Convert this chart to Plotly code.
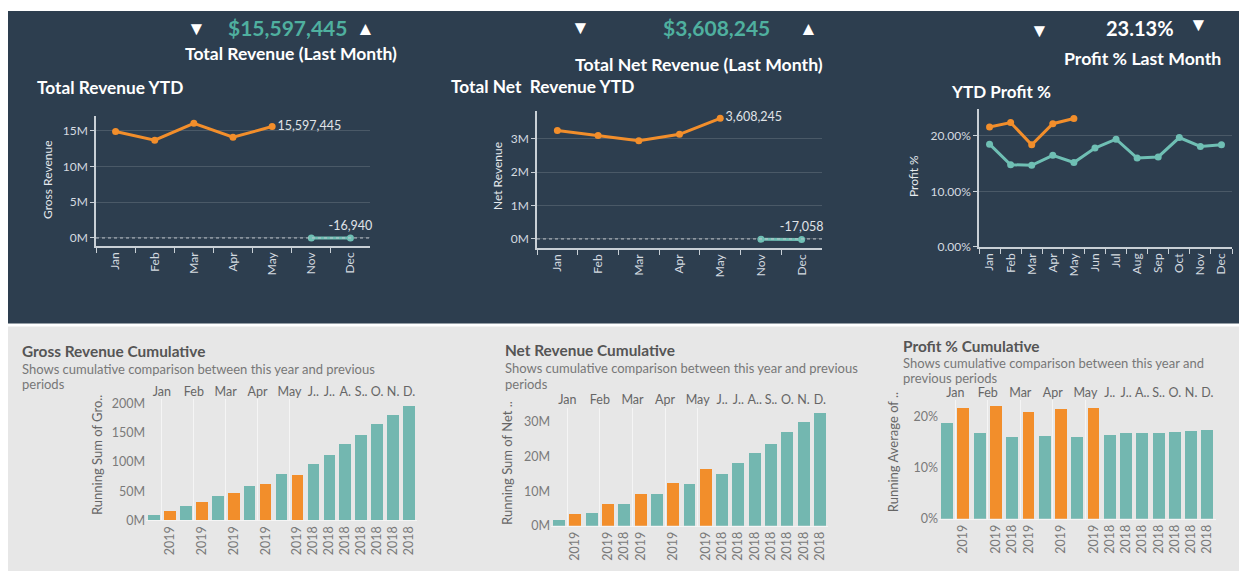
import plotly.graph_objects as go

# ---------------- DATA ----------------
ytd_months = ['Jan', 'Feb', 'Mar', 'Apr', 'May', 'Nov', 'Dec']
rev_this_months = ['Jan', 'Feb', 'Mar', 'Apr', 'May']
rev_this = [14.9e6, 13.7e6, 16.05e6, 14.1e6, 15597445]
rev_prev_months = ['Nov', 'Dec']
rev_prev = [-9800, -16940]
net_this = [3.24e6, 3.09e6, 2.94e6, 3.13e6, 3608245]
net_prev = [-10200, -17058]

all_months = ['Jan', 'Feb', 'Mar', 'Apr', 'May', 'Jun', 'Jul', 'Aug', 'Sep', 'Oct', 'Nov', 'Dec']
profit_this = [0.216, 0.224, 0.184, 0.222, 0.2313]
profit_prev = [0.185, 0.148, 0.147, 0.165, 0.152, 0.178, 0.194, 0.160, 0.162, 0.197, 0.181, 0.184]

kpi_rev = '$15,597,445'
kpi_net = '$3,608,245'
kpi_profit = '23.13%'

bar_month = ['Jan', 'Jan', 'Feb', 'Feb', 'Mar', 'Mar', 'Apr', 'Apr', 'May', 'May',
             'Jun', 'Jul', 'Aug', 'Sep', 'Oct', 'Nov', 'Dec']
bar_year = ['2018', '2019', '2018', '2019', '2018', '2019', '2018', '2019', '2018', '2019',
            '2018', '2018', '2018', '2018', '2018', '2018', '2018']
gross_cum = [9.1e6, 15.0e6, 23.7e6, 30.0e6, 41.6e6, 45.6e6, 58.4e6, 60.6e6, 78.1e6, 76.9e6,
             95.0e6, 111.8e6, 130.3e6, 145.0e6, 163.5e6, 180.3e6, 194.8e6]
net_cum = [1.7e6, 3.4e6, 3.7e6, 6.4e6, 6.4e6, 9.3e6, 9.3e6, 12.3e6, 12.0e6, 16.3e6,
           15.1e6, 18.1e6, 21.0e6, 23.6e6, 27.0e6, 30.1e6, 32.7e6]
profit_cum = [0.1865, 0.217, 0.168, 0.2206, 0.160, 0.209, 0.1615, 0.2135, 0.160, 0.217,
              0.1635, 0.168, 0.168, 0.168, 0.170, 0.172, 0.174]
gross_top_labels = ['Jan', 'Feb', 'Mar', 'Apr', 'May', 'J..', 'J..', 'A.', 'S..', 'O.', 'N.', 'D.']
net_top_labels = ['Jan', 'Feb', 'Mar', 'Apr', 'May', 'J..', 'J..', 'A..', 'S..', 'O.', 'N.', 'D.']
gross_year_shown = [1, 3, 5, 7, 9, 10, 11, 12, 13, 14, 15, 16]
net_year_shown = [1, 3, 4, 5, 7, 9, 10, 11, 12, 13, 14, 15, 16]

# ---------------- STYLE ----------------
W, H = 1247, 579
OFF = 8                      # page body margin
FW, FH = W - OFF, H - OFF    # figure size
FONT = 'Lato'
DARK = '#2d3e4f'
GREY = '#e7e7e7'
ORANGE = '#f28e2b'
TEAL_LINE = '#6fbfb4'
TEAL_BAR = '#73b7b0'
KPI_TEAL = '#4fb09f'
TICK_DARK = '#d5dbe0'
TICK_LIGHT = '#7a7a7a'


def px(x):
    return max(0.0, (x - OFF) / FW)


def py(y):
    return max(0.0, min(1.0, 1 - (y - OFF) / FH))


fig = go.Figure()

# background panels
fig.add_shape(type='rect', xref='paper', yref='paper', x0=px(8), x1=1, y0=py(326), y1=py(5),
              fillcolor=DARK, line_width=0, layer='below')
fig.add_shape(type='rect', xref='paper', yref='paper', x0=px(8), x1=1, y0=py(578), y1=py(329),
              fillcolor=GREY, line_width=0, layer='below')

# ---------- top line charts ----------
def line_tr(x, y, color, xa, ya, text=None, tpos='middle right'):
    return go.Scatter(x=x, y=y, mode='lines+markers+text' if text else 'lines+markers',
                      line=dict(color=color, width=3), marker=dict(color=color, size=7),
                      text=text, textposition=tpos,
                      textfont=dict(family=FONT, size=12.5, color='#e0e4e8'),
                      xaxis=xa, yaxis=ya, showlegend=False, hoverinfo='skip', cliponaxis=False)


fig.add_trace(line_tr(rev_this_months, rev_this, ORANGE, 'x', 'y',
                      text=[''] * 4 + ['{:,}'.format(rev_this[-1])]))
fig.add_trace(line_tr(rev_prev_months, rev_prev, TEAL_LINE, 'x', 'y',
                      text=['', '{:,}'.format(rev_prev[-1])], tpos='top center'))
fig.add_trace(line_tr(rev_this_months, net_this, ORANGE, 'x2', 'y2',
                      text=[''] * 4 + ['{:,}'.format(net_this[-1])]))
fig.add_trace(line_tr(rev_prev_months, net_prev, TEAL_LINE, 'x2', 'y2',
                      text=['', '{:,}'.format(net_prev[-1])], tpos='top center'))
fig.add_trace(line_tr(all_months[:len(profit_this)], profit_this, ORANGE, 'x3', 'y3'))
fig.add_trace(line_tr(all_months, profit_prev, TEAL_LINE, 'x3', 'y3'))

dark_x = dict(type='category', tickangle=-90, showline=True, linecolor='#c9d0d6', linewidth=1.5,
              ticks='outside', tickson='boundaries', ticklen=5, tickcolor='#c9d0d6',
              tickfont=dict(family=FONT, size=12, color=TICK_DARK), showgrid=False,
              fixedrange=True)
dark_y = dict(showline=True, linecolor='#c9d0d6', linewidth=1.5, ticks='outside', ticklen=4,
              tickcolor='#c9d0d6', tickfont=dict(family=FONT, size=12, color=TICK_DARK),
              showgrid=True, gridcolor='rgba(255,255,255,0.14)', gridwidth=1, zeroline=False)

fig.update_layout(
    xaxis=dict(dark_x, domain=[px(96), px(370)], anchor='y', range=[-0.5, 6.5],
               categoryorder='array', categoryarray=ytd_months),
    yaxis=dict(dark_y, domain=[py(247), py(115)], anchor='x', range=[-1.1e6, 17.06e6],
               tickvals=[0, 5e6, 10e6, 15e6], ticktext=['0M', '5M', '10M', '15M']),
    xaxis2=dict(dark_x, domain=[px(537), px(822)], anchor='y2', range=[-0.5, 6.5],
                categoryorder='array', categoryarray=ytd_months),
    yaxis2=dict(dark_y, domain=[py(249), py(110)], anchor='x2', range=[-0.265e6, 3.82e6],
                tickvals=[0, 1e6, 2e6, 3e6], ticktext=['0M', '1M', '2M', '3M']),
    xaxis3=dict(dark_x, domain=[px(979), px(1232)], anchor='y3', range=[-0.5, 11.5],
                categoryorder='array', categoryarray=all_months),
    yaxis3=dict(dark_y, domain=[py(248), py(108)], anchor='x3', range=[0, 0.248],
                tickvals=[0, 0.1, 0.2], tickformat='.2%'),
)

for ya in ['y', 'y2']:
    fig.add_shape(type='line', xref=ya.replace('y', 'x') + ' domain', yref=ya, x0=0, x1=1, y0=0, y1=0,
                  line=dict(color='#c0c6cc', width=1, dash='dot'))

# ---------- bottom bar charts ----------
idx = list(range(len(bar_month)))
bar_colors = [ORANGE if y == '2019' else TEAL_BAR for y in bar_year]
month_centers = []
for m in all_months:
    pos = [i for i, bm in enumerate(bar_month) if bm == m]
    month_centers.append(sum(pos) / len(pos))
paired_centers = [c for c in month_centers if c != int(c)]


def bar_tr(vals, xa, ya):
    return go.Bar(x=idx, y=vals, marker=dict(color=bar_colors, line_width=0), width=0.73,
                  xaxis=xa, yaxis=ya, showlegend=False, hoverinfo='skip')


def ghost(xs, xa, ya):
    return go.Scatter(x=xs, y=[0] * len(xs), mode='markers',
                      marker=dict(opacity=0), xaxis=xa, yaxis=ya, showlegend=False, hoverinfo='skip')


fig.add_trace(ghost(paired_centers, 'x10', 'y4'))
fig.add_trace(ghost(paired_centers, 'x11', 'y6'))
fig.add_trace(ghost(paired_centers, 'x12', 'y8'))
fig.add_trace(bar_tr(gross_cum, 'x4', 'y4'))
fig.add_trace(ghost(month_centers, 'x5', 'y4'))
fig.add_trace(bar_tr(net_cum, 'x6', 'y6'))
fig.add_trace(ghost(month_centers, 'x7', 'y6'))
fig.add_trace(bar_tr(profit_cum, 'x8', 'y8'))
fig.add_trace(ghost(month_centers, 'x9', 'y8'))

light_x = dict(range=[-0.5, 16.5], tickangle=-90, showline=True, linecolor='#f5f5f5', linewidth=1,
               ticks='', tickfont=dict(family=FONT, size=12.5, color=TICK_LIGHT), showgrid=False,
               zeroline=False, tickvals=idx)
light_top = dict(range=[-0.5, 16.5], side='top', showline=False, ticks='',
                 tickfont=dict(family=FONT, size=12.5, color='#666666'),
                 tickvals=month_centers, showgrid=False, zeroline=False)
grid_x = dict(range=[-0.5, 16.5], showline=False, ticks='', showticklabels=False,
              tickvals=paired_centers, showgrid=True, gridcolor='rgba(255,255,255,0.6)',
              gridwidth=1, zeroline=False)
light_y = dict(showline=False, ticks='', tickfont=dict(family=FONT, size=12.5, color=TICK_LIGHT),
               showgrid=False, zeroline=False)


def year_text(shown):
    return [bar_year[i] if i in shown else '' for i in idx]


GD = [px(146), px(417)]
ND = [px(551), px(828)]
PD = [px(939), px(1215.5)]
fig.update_layout(
    xaxis4=dict(light_x, domain=GD, anchor='y4', ticktext=year_text(gross_year_shown)),
    xaxis5=dict(light_top, domain=GD, anchor='y4', overlaying='x4', ticktext=gross_top_labels),
    xaxis10=dict(grid_x, domain=GD, anchor='y4', overlaying='x4'),
    yaxis4=dict(light_y, domain=[py(526.4), py(403.4)], anchor='x4', range=[0, 207e6],
                tickvals=[0, 50e6, 100e6, 150e6, 200e6], ticktext=['0M', '50M', '100M', '150M', '200M']),
    xaxis6=dict(light_x, domain=ND, anchor='y6', ticktext=year_text(net_year_shown)),
    xaxis7=dict(light_top, domain=ND, anchor='y6', overlaying='x6', ticktext=net_top_labels),
    xaxis11=dict(grid_x, domain=ND, anchor='y6', overlaying='x6'),
    yaxis6=dict(light_y, domain=[py(532), py(412)], anchor='x6', range=[0, 34e6],
                tickvals=[0, 10e6, 20e6, 30e6], ticktext=['0M', '10M', '20M', '30M']),
    xaxis8=dict(light_x, domain=PD, anchor='y8', ticktext=year_text(net_year_shown)),
    xaxis9=dict(light_top, domain=PD, anchor='y8', overlaying='x8', ticktext=net_top_labels),
    xaxis12=dict(grid_x, domain=PD, anchor='y8', overlaying='x8'),
    yaxis8=dict(light_y, domain=[py(524.7), py(404)], anchor='x8', range=[0, 0.232],
                tickvals=[0, 0.1, 0.2], tickformat='.0%'),
)

# ---------- text ----------
def ann(text, x, y, size, color, bold=False, xanchor='left', angle=0):
    fig.add_annotation(text='<b>%s</b>' % text if bold else text, x=px(x), y=py(y),
                       xref='paper', yref='paper', xanchor=xanchor, yanchor='middle',
                       showarrow=False, textangle=angle,
                       font=dict(family=FONT, size=size, color=color))


WHITE = '#ffffff'
# KPIs
ann('▼', 196, 25, 19, WHITE, xanchor='center')
ann(kpi_rev, 226, 25, 21, KPI_TEAL, bold=True)
ann('▲', 365, 25, 19, WHITE, xanchor='center')
ann('Total Revenue (Last Month)', 183, 51, 17.5, WHITE, bold=True)
ann('▼', 580, 24, 19, WHITE, xanchor='center')
ann(kpi_net, 661, 25, 21, KPI_TEAL, bold=True)
ann('▲', 808, 25, 19, WHITE, xanchor='center')
ann('Total Net Revenue (Last Month)', 573, 62, 17.7, WHITE, bold=True)
ann('▼', 1039, 27, 19, WHITE, xanchor='center')
ann(kpi_profit, 1104, 25, 20, WHITE, bold=True)
ann('▼', 1198, 21, 19, WHITE, xanchor='center')
ann('Profit % Last Month', 1062, 56, 17.7, WHITE, bold=True)
# chart titles
ann('Total Revenue YTD', 35, 86, 17.3, WHITE, bold=True)
ann('Total Net\u00a0 Revenue YTD', 449, 85, 17.3, WHITE, bold=True)
ann('YTD Profit %', 949, 90, 17, WHITE, bold=True)
ann('Gross Revenue', 48, 180, 12, '#e6eaee', xanchor='center', angle=-90)
ann('Net Revenue', 497, 176, 12, '#e6eaee', xanchor='center', angle=-90)
ann('Profit %', 913, 176, 12, '#e6eaee', xanchor='center', angle=-90)
# bottom titles
TITLE_C = '#555555'
SUB_C = '#777777'
ann('Gross Revenue Cumulative', 20, 354, 15.4, TITLE_C, bold=True)
ann('Shows cumulative comparison between this year and previous', 20, 372, 13, SUB_C)
ann('periods', 20, 388, 13, SUB_C)
ann('Net Revenue Cumulative', 503, 353, 15.4, TITLE_C, bold=True)
ann('Shows cumulative comparison between this year and previous', 503, 371, 13, SUB_C)
ann('periods', 503, 388, 13, SUB_C)
ann('Profit % Cumulative', 901, 349, 15.4, TITLE_C, bold=True)
ann('Shows cumulative comparison between this year and', 901, 366, 13, SUB_C)
ann('previous periods', 901, 382, 13, SUB_C)
ann('Running Sum of Gro..', 97, 460, 13, '#666666', xanchor='center', angle=-90)
ann('Running Sum of Net ..', 507, 468, 13, '#666666', xanchor='center', angle=-90)
ann('Running Average of ..', 893, 457, 13, '#666666', xanchor='center', angle=-90)

fig.update_layout(width=FW, height=FH, margin=dict(l=0, r=0, t=0, b=0),
                  paper_bgcolor='#ffffff', plot_bgcolor='rgba(0,0,0,0)',
                  barmode='overlay', bargap=0, font=dict(family=FONT))

fig.write_html('out.html')
